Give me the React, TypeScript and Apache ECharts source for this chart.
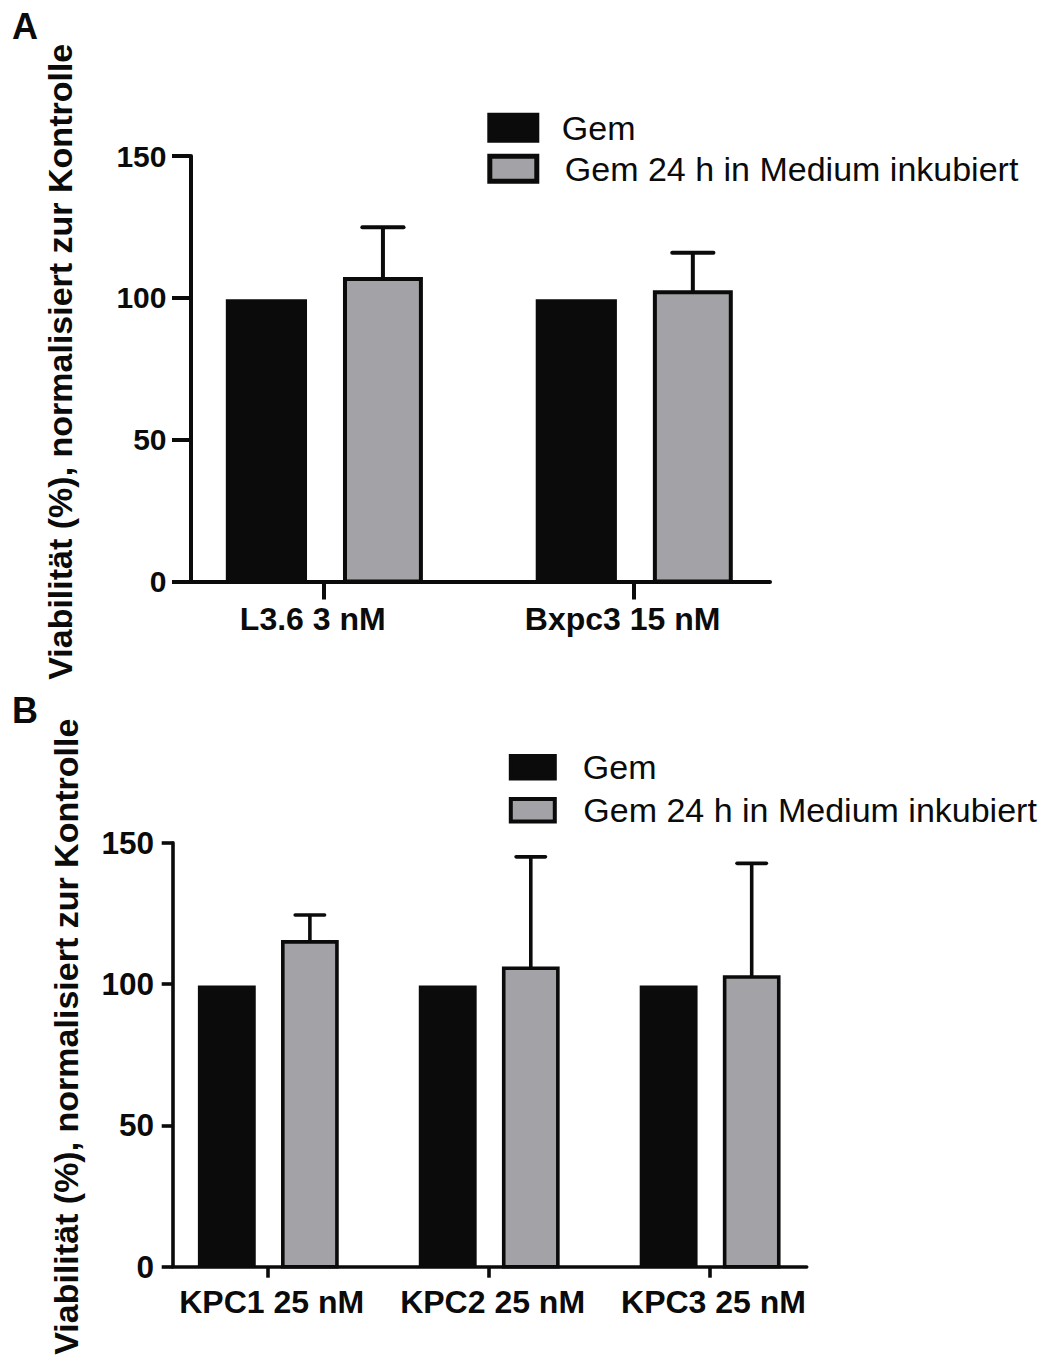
import React, { useEffect, useRef } from 'react';
import * as echarts from 'echarts';

// ---------- data ----------
const seriesNames = ['Gem', 'Gem 24 h in Medium inkubiert'];
const yTitle = 'Viabilität (%), normalisiert zur Kontrolle';

const catsA = ['L3.6 3 nM', 'Bxpc3 15 nM'];
const gemA = [99.5, 99.5];
const gem24A = [106.6, 102.0];
const sdGem24A = [18.3, 13.9];

const catsB = ['KPC1 25 nM', 'KPC2 25 nM', 'KPC3 25 nM'];
const gemB = [99.5, 99.5, 99.5];
const gem24B = [114.9, 105.6, 102.5];
const sdGem24B = [9.5, 39.4, 40.2];

const yMin = 0;
const yMax = 150;
const yStep = 50;

// ---------- style ----------
const FONT = 'Liberation Sans, Arial, Helvetica, sans-serif';
const INK = '#0a0b0a';
const GRAY = '#a3a2a6';

function makeRender(offset: number, width: number, fill: string, stroke: boolean, lw: number, capW: number) {
  return (params: any, api: any) => {
    const c = api.value(0) + offset;
    const v = api.value(1);
    const sd = api.value(2);
    const p0 = api.coord([c, 0]);
    const p1 = api.coord([c, v]);
    const w = api.size([width, 0])[0];
    const children: any[] = [];
    if (sd > 0) {
      const pe = api.coord([c, v + sd]);
      const cw = api.size([capW, 0])[0];
      children.push({
        type: 'line',
        shape: { x1: p1[0], y1: p1[1], x2: pe[0], y2: pe[1] },
        style: { stroke: INK, lineWidth: lw },
      });
      children.push({
        type: 'line',
        shape: { x1: pe[0] - cw / 2, y1: pe[1], x2: pe[0] + cw / 2, y2: pe[1] },
        style: { stroke: INK, lineWidth: lw, lineCap: 'round' },
      });
    }
    children.push({
      type: 'rect',
      shape: { x: p1[0] - w / 2, y: p1[1], width: w, height: p0[1] - p1[1] },
      style: stroke ? { fill, stroke: INK, lineWidth: lw } : { fill },
    });
    return { type: 'group', children };
  };
}

function buildPanel(
  idx: number,
  cats: string[],
  gem: number[],
  gem24: number[],
  sd: number[],
  cfg: any
) {
  const n = cats.length;
  const ticks = cats.map((_, i) => i);
  const grid = {
    left: cfg.left,
    top: cfg.top,
    width: cfg.width,
    height: cfg.height,
    containLabel: false,
    outerBoundsMode: 'none',
  };
  const xAxis = {
    type: 'value',
    gridIndex: idx,
    min: -0.43,
    max: n - 1 + 0.44,
    splitLine: { show: false },
    axisLine: { show: true, onZero: false, lineStyle: { color: INK, width: cfg.lw } },
    axisTick: { show: true, customValues: ticks, length: cfg.xTick, lineStyle: { color: INK, width: cfg.lw } },
    axisLabel: {
      show: true,
      customValues: ticks,
      formatter: (v: number) => cats[Math.round(v)] ?? '',
      fontFamily: FONT,
      fontSize: 32,
      fontWeight: 'bold',
      color: INK,
      margin: cfg.xMargin,
      padding: cfg.xPad,
    },
  };
  const yAxis = {
    type: 'value',
    gridIndex: idx,
    min: yMin,
    max: yMax,
    interval: yStep,
    splitLine: { show: false },
    axisLine: { show: true, onZero: false, lineStyle: { color: INK, width: cfg.lw } },
    axisTick: { show: true, length: cfg.yTick, lineStyle: { color: INK, width: cfg.lw } },
    axisLabel: {
      fontFamily: FONT,
      fontSize: cfg.yFont,
      fontWeight: 'bold',
      color: INK,
      margin: cfg.yMargin,
    },
    name: yTitle,
    nameLocation: 'middle',
    nameRotate: 90,
    nameGap: cfg.nameGap,
    nameTextStyle: {
      fontFamily: FONT,
      fontSize: 34,
      fontWeight: 'bold',
      color: INK,
      padding: [0, 0, 0, cfg.namePad],
    },
  };
  const series = [
    {
      type: 'custom',
      name: seriesNames[0],
      xAxisIndex: idx,
      yAxisIndex: idx,
      itemStyle: { color: INK },
      encode: { x: 0, y: 1 },
      renderItem: makeRender(-0.185, 0.262, INK, false, cfg.lw, 0.133),
      data: gem.map((v, i) => [i, v, 0]),
    },
    {
      type: 'custom',
      name: seriesNames[1],
      xAxisIndex: idx,
      yAxisIndex: idx,
      itemStyle: { color: GRAY },
      encode: { x: 0, y: 1 },
      renderItem: makeRender(0.191, 0.245, GRAY, true, cfg.lw, 0.133),
      data: gem24.map((v, i) => [i, v, sd[i]]),
    },
  ];
  const legend = {
    orient: 'vertical',
    left: cfg.legLeft,
    top: cfg.legTop,
    padding: 0,
    itemWidth: cfg.legW,
    itemHeight: cfg.legH,
    itemGap: cfg.legGap,
    icon: 'rect',
    selectedMode: false,
    textStyle: { fontFamily: FONT, fontSize: 34, color: INK },
    data: [
      {
        name: seriesNames[0],
        itemStyle: { color: INK, borderColor: INK, borderWidth: cfg.legBorder },
        textStyle: { padding: [0, 0, 0, cfg.legPad1] },
      },
      {
        name: seriesNames[1],
        itemStyle: { color: GRAY, borderColor: INK, borderWidth: cfg.legBorder },
        textStyle: { padding: [0, 0, 0, cfg.legPad2] },
      },
    ],
  };
  return { grid, xAxis, yAxis, series, legend };
}

export default function App() {
  const ref = useRef<HTMLDivElement>(null);
  useEffect(() => {
    if (!ref.current) return;
    const chart = echarts.init(ref.current, null, { renderer: 'svg' });
    const A = buildPanel(0, catsA, gemA, gem24A, sdGem24A, {
      left: 190.5, top: 156, width: 579.5, height: 425.5, lw: 4,
      xTick: 18, xMargin: 21, xPad: [0, 22, 0, 0],
      yTick: 18.5, yFont: 30, yMargin: 24,
      nameGap: 114, namePad: 14,
      legLeft: 487.3, legTop: 110.7, legW: 47, legH: 25, legGap: 7, legBorder: 5, legPad1: 20, legPad2: 23,
    });
    const B = buildPanel(1, catsB, gemB, gem24B, sdGem24B, {
      left: 172.7, top: 842.7, width: 634, height: 424, lw: 3.6,
      xTick: 11, xMargin: 19.4, xPad: [0, 0, 0, 8],
      yTick: 11, yFont: 31.5, yMargin: 18.7,
      nameGap: 90, namePad: 36,
      legLeft: 508.8, legTop: 750.3, legW: 44, legH: 22.5, legGap: 9, legBorder: 4, legPad1: 23, legPad2: 23.5,
    });
    chart.setOption({
      animation: false,
      backgroundColor: '#ffffff',
      grid: [A.grid, B.grid],
      xAxis: [A.xAxis, B.xAxis],
      yAxis: [A.yAxis, B.yAxis],
      legend: [A.legend, B.legend],
      series: [...A.series, ...B.series],
      graphic: [
        {
          type: 'text',
          left: 12,
          top: 8.6,
          style: { text: 'A', fontFamily: FONT, fontSize: 36, fontWeight: 'bold', fill: INK },
        },
        {
          type: 'text',
          left: 12,
          top: 692,
          style: { text: 'B', fontFamily: FONT, fontSize: 36, fontWeight: 'bold', fill: INK },
        },
      ],
    });
    return () => chart.dispose();
  }, []);
  return (
    <div
      ref={ref}
      style={{ position: 'absolute', left: 0, top: 0, width: 1043, height: 1361, background: '#fff' }}
    />
  );
}
